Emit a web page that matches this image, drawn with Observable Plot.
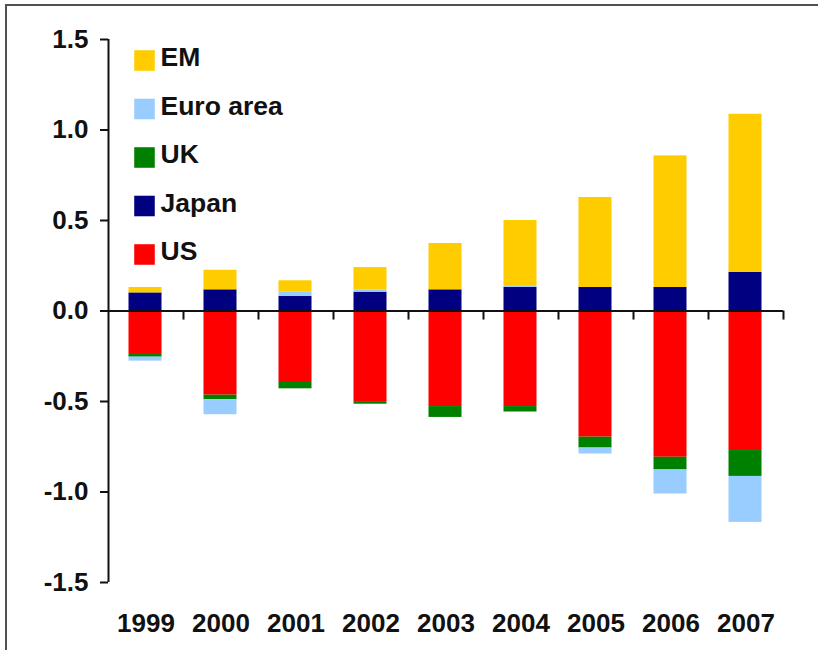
<!DOCTYPE html>
<html>
<head>
<meta charset="utf-8">
<script src="https://cdn.jsdelivr.net/npm/d3@7"></script>
<script src="https://cdn.jsdelivr.net/npm/@observablehq/plot@0.6"></script>
<style>
  html, body { margin: 0; padding: 0; background: #ffffff; }
  #wrap { position: relative; width: 818px; height: 650px; overflow: hidden; }
  #frame { position: absolute; left: 5px; top: 4px; width: 900px; height: 800px;
           border-left: 2px solid #505050; border-top: 2px solid #505050; z-index: 2; pointer-events: none; }
  #chart { position: absolute; left: 0; top: 0; }
</style>
</head>
<body>
<div id="wrap"><div id="frame"></div><div id="chart"></div></div>
<script>
// ---- data ----
const years = ["1999", "2000", "2001", "2002", "2003", "2004", "2005", "2006", "2007"];
const seriesNames = ["US", "Japan", "UK", "Euro area", "EM"];   // stacking order from zero
const usVals    = [-0.235, -0.465, -0.395, -0.505, -0.528, -0.528, -0.697, -0.808, -0.771];
const japanVals = [0.100, 0.117, 0.080, 0.104, 0.117, 0.130, 0.130, 0.130, 0.214];
const ukVals    = [-0.020, -0.025, -0.035, -0.010, -0.060, -0.030, -0.060, -0.070, -0.143];
const euroVals  = [-0.022, -0.083, 0.024, 0.011, 0.000, 0.010, -0.033, -0.133, -0.254];
const emVals    = [0.030, 0.108, 0.063, 0.125, 0.256, 0.360, 0.497, 0.727, 0.873];
const legendOrder = ["EM", "Euro area", "UK", "Japan", "US"];
const seriesColors = ["#FF0000", "#000080", "#008000", "#99CCFF", "#FFCC00"];
const yTicks = [-1.5, -1.0, -0.5, 0.0, 0.5, 1.0, 1.5];

const valuesBySeries = {"US": usVals, "Japan": japanVals, "UK": ukVals, "Euro area": euroVals, "EM": emVals};
const rows = [];
years.forEach((yr, i) => {
  seriesNames.forEach(s => rows.push({year: yr, series: s, value: valuesBySeries[s][i]}));
});

// ---- layout ----
const W = 818, H = 650;
const mL = 108, mR = 35, mT = 39, mB = 68;
const bw = (W - mL - mR) / years.length;
const font = "'Liberation Sans', Arial, Helvetica, sans-serif";

const legendMarks = legendOrder.flatMap((name, i) => [
  Plot.dot([name], {frameAnchor: "top-left", dx: 36, dy: 21 + i * 48.5, symbol: "square", r: 11.6,
                    fill: seriesColors[seriesNames.indexOf(name)], stroke: null}),
  Plot.text([name], {text: d => d, frameAnchor: "top-left", dx: 52, dy: 18.5 + i * 48.5, textAnchor: "start",
                     lineAnchor: "middle", fontSize: 26.5, fontWeight: "bold", fill: "#111"})
]);

const chart = Plot.plot({
  width: W, height: H,
  marginLeft: mL, marginRight: mR, marginTop: mT, marginBottom: mB,
  style: {fontFamily: font, background: "transparent", color: "#111"},
  x: {type: "band", domain: years, padding: 0},
  y: {domain: [-1.5, 1.5]},
  color: {domain: seriesNames, range: seriesColors},
  marks: [
    Plot.barY(rows, {x: "year", y: "value", fill: "series", insetLeft: 20.5, insetRight: 21.5}),
    Plot.ruleY([0], {stroke: "#111", strokeWidth: 2}),
    Plot.ruleX([years[0]], {x: d => d, dx: -bw / 2, y1: -1.5, y2: 1.5, stroke: "#111", strokeWidth: 2}),
    Plot.ruleX(years, {x: d => d, dx: bw / 2, y1: 0, y2: -0.05, stroke: "#111", strokeWidth: 2}),
    Plot.axisY({ticks: yTicks, tickSize: 8, tickPadding: 12, tickFormat: d => d.toFixed(1),
                fontSize: 26, fontWeight: "bold", label: null, strokeWidth: 2}),
    Plot.axisX({tickSize: 0, tickPadding: 31, fontSize: 26, fontWeight: "bold", label: null}),
    ...legendMarks
  ]
});
document.getElementById("chart").appendChild(chart);
</script>
</body>
</html>
